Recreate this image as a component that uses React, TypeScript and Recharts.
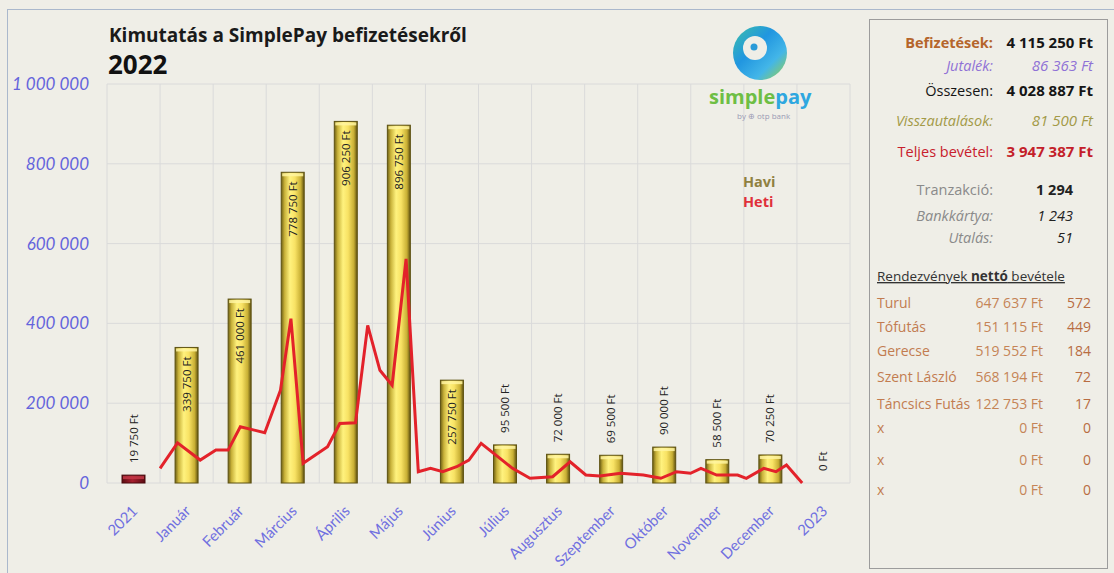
import React from 'react';
import { ComposedChart, Bar, Line, XAxis, YAxis, CartesianGrid, LabelList } from 'recharts';

// ---- data ----
const categories = ['2021', 'Január', 'Február', 'Március', 'Április', 'Május', 'Június', 'Július', 'Augusztus', 'Szeptember', 'Október', 'November', 'December', '2023'];
const haviValues = [19750, 339750, 461000, 778750, 906250, 896750, 257750, 95500, 72000, 69500, 90000, 58500, 70250, 0];
// weekly series: day of year and value
const hetiDays = [0, 10, 23, 32, 39, 46, 54, 60, 69, 75, 82, 96, 103, 112, 119, 126, 133, 141, 148, 155, 162, 170, 177, 184, 202, 212, 225, 235, 244, 252, 264, 277, 287, 296, 304, 310, 319, 331, 336, 346, 353, 359, 368];
const hetiValues = [36750, 100750, 57500, 82500, 82500, 140750, 132500, 125750, 232500, 411750, 49250, 90750, 149250, 150750, 395000, 282500, 245000, 561750, 28250, 36750, 28250, 40750, 57500, 99250, 36750, 11750, 15750, 53250, 20000, 17500, 24250, 20000, 11750, 28250, 24250, 36750, 20000, 20000, 11750, 36750, 28250, 45000, 0];
const yTicks = [0, 200000, 400000, 600000, 800000, 1000000];

const title = 'Kimutatás a SimplePay befizetésekről';
const yearLabel = '2022';
const legendLabels = ['Havi', 'Heti'];

const summaryLabels = ['Befizetések:', 'Jutalék:', 'Összesen:', 'Visszautalások:', 'Teljes bevétel:'];
const summaryValues = [4115250, 86363, 4028887, 81500, 3947387];
const countLabels = ['Tranzakció:', 'Bankkártya:', 'Utalás:'];
const countValues = [1294, 1243, 51];
const eventsTitle = ['Rendezvények ', 'nettó', ' bevétele'];
const eventNames = ['Turul', 'Tófutás', 'Gerecse', 'Szent László', 'Táncsics Futás', 'x', 'x', 'x'];
const eventAmounts = [647637, 151115, 519552, 568194, 122753, 0, 0, 0];
const eventCounts = [572, 449, 184, 72, 17, 0, 0, 0];

// ---- derived tables ----
const haviData = categories.map((name, i) => ({ name, havi: haviValues[i] }));
const hetiData = hetiDays.map((day, i) => ({ day, heti: hetiValues[i] }));

const fmt = (v: number) => String(v).replace(/\B(?=(\d{3})+(?!\d))/g, ' ');

// ---- styles ----
const FONT = '"Open Sans", Lato, sans-serif';
const LATO = 'Lato, "Open Sans", sans-serif';
const BG = '#efeee7';
const summaryStyles = [
  { lc: '#b5652b', lw: 700, li: 'normal', vc: '#151515', vw: 700, vi: 'normal' },
  { lc: '#8f72d6', lw: 400, li: 'italic', vc: '#8f72d6', vw: 400, vi: 'italic' },
  { lc: '#151515', lw: 400, li: 'normal', vc: '#151515', vw: 700, vi: 'normal' },
  { lc: '#a39a48', lw: 400, li: 'italic', vc: '#a39a48', vw: 400, vi: 'italic' },
  { lc: '#c8202c', lw: 400, li: 'normal', vc: '#c41e2a', vw: 700, vi: 'normal' },
];
const summaryBaselines = [48, 71, 96, 126, 157];
const countStyles = [
  { li: 'normal', vw: 700, vi: 'normal' },
  { li: 'italic', vw: 400, vi: 'italic' },
  { li: 'italic', vw: 400, vi: 'italic' },
];
const countBaselines = [195, 221, 243];
const eventBaselines = [308, 332, 356, 382, 409, 433, 465, 495];

const BarShape = (props: any) => {
  const { x, y, width, height, payload } = props;
  if (!height || height <= 0) return null;
  const prev = payload && payload.name === '2021';
  return (
    <g>
      <rect x={x} y={y} width={width} height={height} fill={prev ? 'url(#gradRed)' : 'url(#gradGold)'} stroke={prev ? '#4a0a0e' : '#5e5212'} strokeWidth={1} />
      <rect x={x + 1} y={y + 1} width={width - 2} height={Math.min(3, height - 1)} fill={prev ? '#c43848' : '#fff4a0'} opacity={0.85} />
    </g>
  );
};

const BarLabel = (props: any) => {
  const { x, y, width, value } = props;
  const cx = x + width / 2;
  const inside = value >= 200000;
  const ay = inside ? y + 9 : y - 12;
  return (
    <text transform={`translate(${cx},${ay}) rotate(-90)`} textAnchor={inside ? 'end' : 'start'} dy="0.35em" fontSize={11.5} fill="#222" fontFamily={FONT}>
      {fmt(value)} Ft
    </text>
  );
};

const XTick = (props: any) => {
  const { x, y, payload } = props;
  return (
    <g transform={`translate(${x + 5},${y + 27})`}>
      <text transform="rotate(-45)" textAnchor="end" fontSize={15} fill="#7070e0" fontFamily={LATO}>
        {payload.value}
      </text>
    </g>
  );
};

export default function App() {
  return (
    <div style={{ position: 'absolute', left: 0, top: 0, width: 1114, height: 573, overflow: 'hidden', background: BG, fontFamily: FONT }}>
      <div style={{ position: 'absolute', left: 7, top: 9, width: 1120, height: 600, border: '1.5px solid #aab8cc', boxSizing: 'border-box' }} />
      <div style={{ position: 'absolute', left: 869, top: 19, width: 239, height: 550, border: '1.5px solid #9c9c9c', boxSizing: 'border-box' }} />
      <div style={{ position: 'absolute', left: 0, top: 0 }}>
        <ComposedChart width={860} height={573} data={haviData} margin={{ top: 84, right: 10, bottom: 0, left: 7 }}>
          <defs>
            <linearGradient id="gradGold" x1="0" y1="0" x2="1" y2="0">
              <stop offset="0%" stopColor="#6e6014" />
              <stop offset="15%" stopColor="#c9b23a" />
              <stop offset="38%" stopColor="#fff27e" />
              <stop offset="60%" stopColor="#f8e264" />
              <stop offset="85%" stopColor="#c8af34" />
              <stop offset="100%" stopColor="#5e5010" />
            </linearGradient>
            <linearGradient id="gradRed" x1="0" y1="0" x2="1" y2="0">
              <stop offset="0%" stopColor="#5a0c12" />
              <stop offset="45%" stopColor="#a82030" />
              <stop offset="100%" stopColor="#5a0c12" />
            </linearGradient>
          </defs>
          <CartesianGrid
            xAxisId="cat"
            stroke="#dadada"
            strokeWidth={1}
            verticalCoordinatesGenerator={({ offset }: any) =>
              Array.from({ length: categories.length + 1 }, (_, i) => offset.left + (i * offset.width) / categories.length)
            }
          />
          <XAxis xAxisId="cat" dataKey="name" type="category" height={90} tickLine={false} tickSize={0} axisLine={false} interval={0} tick={<XTick />} />
          <XAxis xAxisId="day" dataKey="day" type="number" domain={[-365 / 12, 365 + 365 / 12]} allowDataOverflow hide />
          <YAxis
            width={100}
            domain={[0, 1000000]}
            ticks={yTicks}
            tickFormatter={fmt}
            tickLine={false}
            tickSize={0}
            tickMargin={18}
            axisLine={false}
            interval={0}
            tick={{ fontSize: 17, fontStyle: 'italic', fill: '#6464dc', fontFamily: LATO }}
          />
          <Bar xAxisId="cat" dataKey="havi" barSize={23} shape={<BarShape />} isAnimationActive={false}>
            <LabelList dataKey="havi" content={<BarLabel />} />
          </Bar>
          <Line xAxisId="day" data={hetiData} dataKey="heti" type="linear" stroke="#e3222a" strokeWidth={3} dot={false} activeDot={false} isAnimationActive={false} />
        </ComposedChart>
      </div>
      <svg width={1114} height={573} style={{ position: 'absolute', left: 0, top: 0, pointerEvents: 'none' }} fontFamily={FONT}>
        <defs>
          <linearGradient id="logoGrad" x1="0" y1="0" x2="1" y2="1">
            <stop offset="0%" stopColor="#3cc0a8" />
            <stop offset="40%" stopColor="#2196e0" />
            <stop offset="70%" stopColor="#43b6e8" />
            <stop offset="100%" stopColor="#9ed23e" />
          </linearGradient>
        </defs>
        <text x={109} y={42} fontSize={19} fontWeight={700} fill="#1a1a1a">{title}</text>
        <text x={108} y={74} fontSize={26} fontWeight={700} fill="#111">{yearLabel}</text>

        {/* logo */}
        <circle cx={760} cy={53} r={27} fill="url(#logoGrad)" />
        <circle cx={755} cy={48} r={12} fill={BG} />
        <circle cx={754} cy={47} r={3.5} fill="#2a9bd8" />
        <text x={709} y={104} fontSize={20} fontWeight={700}>
          <tspan fill="#6ebe44">simple</tspan>
          <tspan fill="#2ea7e0">pay</tspan>
        </text>
        <text x={737} y={119} fontSize={8} fill="#9a9ab4">by ⊕ otp bank</text>

        {/* legend */}
        <text x={743} y={187} fontSize={14.5} fontWeight={700} fill="#8f8040">{legendLabels[0]}</text>
        <text x={743} y={207} fontSize={14.5} fontWeight={700} fill="#e0303a">{legendLabels[1]}</text>

        {/* summary panel */}
        {summaryLabels.map((l, i) => (
          <g key={'s' + i}>
            <text x={993} y={summaryBaselines[i]} textAnchor="end" fontSize={14.5} fontWeight={summaryStyles[i].lw} fontStyle={summaryStyles[i].li} fill={summaryStyles[i].lc}>{l}</text>
            <text x={1093} y={summaryBaselines[i]} textAnchor="end" fontSize={15} fontWeight={summaryStyles[i].vw} fontStyle={summaryStyles[i].vi} fill={summaryStyles[i].vc}>{fmt(summaryValues[i])} Ft</text>
          </g>
        ))}
        {countLabels.map((l, i) => (
          <g key={'c' + i}>
            <text x={993} y={countBaselines[i]} textAnchor="end" fontSize={14.5} fontStyle={countStyles[i].li} fill="#8a8a8a">{l}</text>
            <text x={1073} y={countBaselines[i]} textAnchor="end" fontSize={14.5} fontWeight={countStyles[i].vw} fontStyle={countStyles[i].vi} fill="#222">{fmt(countValues[i])}</text>
          </g>
        ))}
        <text x={877} y={281} fontSize={13.5} fill="#333" textDecoration="underline">
          <tspan>{eventsTitle[0]}</tspan>
          <tspan fontWeight={700}>{eventsTitle[1]}</tspan>
          <tspan>{eventsTitle[2]}</tspan>
        </text>
        {eventNames.map((n, i) => (
          <g key={'e' + i} fontSize={14}>
            <text x={877} y={eventBaselines[i]} fill="#c27c50">{n}</text>
            <text x={1043} y={eventBaselines[i]} textAnchor="end" fill="#c58456">{fmt(eventAmounts[i])} Ft</text>
            <text x={1091} y={eventBaselines[i]} textAnchor="end" fill="#b86c42">{fmt(eventCounts[i])}</text>
          </g>
        ))}
      </svg>
    </div>
  );
}
